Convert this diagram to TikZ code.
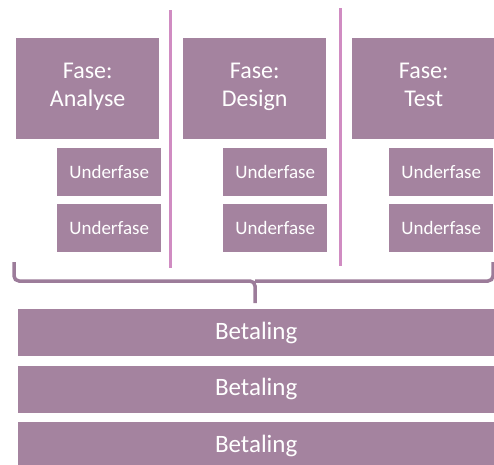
\documentclass[tikz,border=0pt]{standalone}
\usepackage{fontspec}
\setmainfont{Carlito}
\usetikzlibrary{positioning}
\definecolor{phasefill}{HTML}{A4839F}
\definecolor{sepline}{HTML}{D08CC2}
\definecolor{bracecol}{HTML}{9C7C9A}

\begin{document}
\begin{tikzpicture}[
 x=1pt, y=-1pt,
 fase/.style={rectangle, fill=phasefill, text=white, anchor=north west, minimum width=143pt, minimum height=101pt, align=center, font=\fontsize{24}{28}\selectfont, inner sep=0pt},
 underfase/.style={rectangle, fill=phasefill, text=white, anchor=north west, minimum width=104pt, minimum height=48pt, font=\fontsize{19}{22}\selectfont, inner sep=0pt},
 betaling/.style={rectangle, fill=phasefill, text=white, anchor=north west, minimum width=476pt, minimum height=47pt, font=\fontsize{25}{29}\selectfont, inner sep=0pt},
 separator/.style={draw=sepline, line width=3pt},
 bracket/.style={draw=bracecol, line width=3.5pt, rounded corners=5pt}
]
\useasboundingbox (0,0) rectangle (494,464);

% Phases
\node[fase] (analyse) at (16,38) {Fase:\\Analyse\strut};
\node[fase] (design) at (183,38) {Fase:\\Design\strut};
\node[fase] (test) at (352,38) {Fase:\\Test\strut};

% Sub phases
\node[underfase] (ua1) at (57,148) {Underfase};
\node[underfase, below=7pt of ua1] (ua2) {Underfase};
\node[underfase] (ud1) at (223,148) {Underfase};
\node[underfase, below=7pt of ud1] (ud2) {Underfase};
\node[underfase] (ut1) at (389,148) {Underfase};
\node[underfase, below=7pt of ut1] (ut2) {Underfase};

% Separators
\coordinate (s1top) at (170,10);
\coordinate (s1bot) at (170,268);
\coordinate (s2top) at (340,8);
\coordinate (s2bot) at (340,266);
\draw[separator] (s1top) -- (s1bot);
\draw[separator] (s2top) -- (s2bot);

% Brace
\coordinate (bl) at (14,262);
\coordinate (br) at (493,262);
\coordinate (bm) at (255,303);
\draw[bracket] (bl) -- (14,281) -- (255,281) -- (bm);
\draw[bracket] (br) -- (493,281) -- (255,281);

% Payments
\node[betaling] (bet1) at (18,309) {Betaling};
\node[betaling, below=9pt of bet1] (bet2) {Betaling};
\node[betaling, below=9pt of bet2] (bet3) {Betaling};
\end{tikzpicture}
\end{document}
